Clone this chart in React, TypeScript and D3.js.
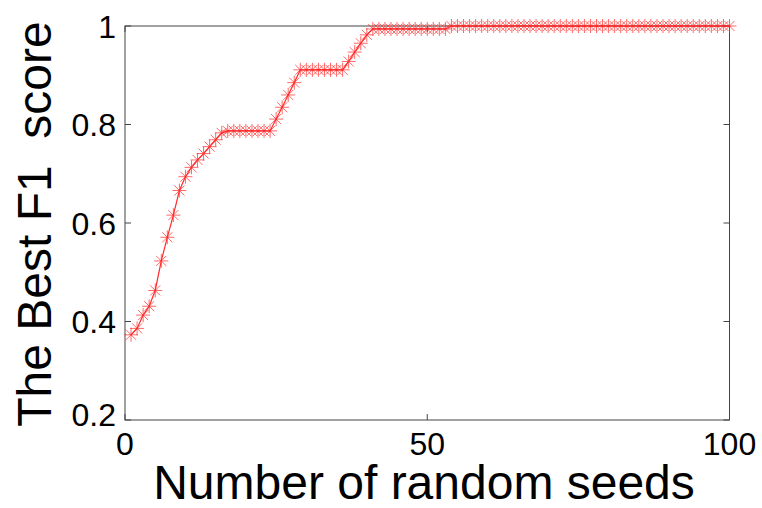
import React, { useEffect, useRef } from 'react';
import * as d3 from 'd3';

// best F1 score after n random seeds
const seeds: number[] = d3.range(1, 101);
const bestF1: number[] = [
  0.373, 0.386, 0.413, 0.431, 0.463, 0.523, 0.571, 0.616, 0.666, 0.694,
  0.713, 0.728, 0.741, 0.755, 0.769, 0.783, 0.787, 0.787, 0.787, 0.787,
  0.787, 0.787, 0.787, 0.787, 0.811, 0.835, 0.86, 0.885, 0.911, 0.911,
  0.911, 0.911, 0.911, 0.911, 0.911, 0.911, 0.928, 0.947, 0.965, 0.982,
  0.994, 0.994, 0.994, 0.994, 0.994, 0.994, 0.994, 0.994, 0.994, 0.994,
  0.994, 0.994, 0.994, 1.0, 1.0, 1.0, 1.0, 1.0, 1.0, 1.0,
  1.0, 1.0, 1.0, 1.0, 1.0, 1.0, 1.0, 1.0, 1.0, 1.0,
  1.0, 1.0, 1.0, 1.0, 1.0, 1.0, 1.0, 1.0, 1.0, 1.0,
  1.0, 1.0, 1.0, 1.0, 1.0, 1.0, 1.0, 1.0, 1.0, 1.0,
  1.0, 1.0, 1.0, 1.0, 1.0, 1.0, 1.0, 1.0, 1.0, 1.0,
];
const xTicks = [0, 50, 100];
const yTicks = [0.2, 0.4, 0.6, 0.8, 1];

const App = () => {
  const ref = useRef<SVGSVGElement>(null);

  useEffect(() => {
    if (!ref.current) return;
    const svg = d3.select(ref.current);
    svg.selectAll('*').remove();

    const left = 125, right = 729.5, top = 26, bottom = 420;
    const x = d3.scaleLinear().domain([0, 100]).range([left, right]);
    const y = d3.scaleLinear().domain([0.2, 1]).range([bottom, top]);
    const font = '"Liberation Sans", Arial, sans-serif';
    const axisColor = '#444';

    // box
    svg.append('rect')
      .attr('x', left).attr('y', top)
      .attr('width', right - left).attr('height', bottom - top)
      .attr('fill', 'none').attr('stroke', axisColor).attr('stroke-width', 1);

    // inner ticks, both sides like matlab
    const tickLen = 6;
    yTicks.forEach(t => {
      svg.append('line').attr('x1', left).attr('x2', left + tickLen)
        .attr('y1', y(t)).attr('y2', y(t)).attr('stroke', axisColor);
      svg.append('line').attr('x1', right).attr('x2', right - tickLen)
        .attr('y1', y(t)).attr('y2', y(t)).attr('stroke', axisColor);
      svg.append('text')
        .attr('x', left - 9).attr('y', Math.min(y(t), 414))
        .attr('dy', '0.36em')
        .attr('text-anchor', 'end')
        .style('font-family', font).style('font-size', '32px')
        .text(d3.format('~g')(t));
    });
    xTicks.forEach(t => {
      svg.append('line').attr('x1', x(t)).attr('x2', x(t))
        .attr('y1', bottom).attr('y2', bottom - tickLen).attr('stroke', axisColor);
      svg.append('line').attr('x1', x(t)).attr('x2', x(t))
        .attr('y1', top).attr('y2', top + tickLen).attr('stroke', axisColor);
      svg.append('text')
        .attr('x', x(t)).attr('y', 455)
        .attr('text-anchor', 'middle')
        .style('font-family', font).style('font-size', '32px')
        .text(t);
    });

    // axis titles
    svg.append('text')
      .attr('x', 424).attr('y', 499)
      .attr('text-anchor', 'middle')
      .style('font-family', font).style('font-size', '48px')
      .text('Number of random seeds');
    svg.append('text')
      .attr('transform', `translate(51,${(top + bottom) / 2 + 1}) rotate(-90)`)
      .attr('text-anchor', 'middle')
      .style('font-family', font).style('font-size', '48px')
      .style('white-space', 'pre')
      .text('The Best F1  score');

    const data = seeds.map((s, i) => ({ s, v: bestF1[i] }));
    const red = '#ff2a2a';

    svg.append('path')
      .datum(data)
      .attr('fill', 'none')
      .attr('stroke', red)
      .attr('stroke-width', 1.2)
      .attr('d', d3.line<{ s: number; v: number }>().x(d => x(d.s)).y(d => y(d.v)));

    const r = 7, rd = r * 0.72;
    const mk = svg.append('g').attr('stroke', red).attr('stroke-opacity', 0.7).attr('stroke-width', 1);
    data.forEach(d => {
      const cx = x(d.s), cy = y(d.v);
      mk.append('path').attr('d',
        `M${cx - r},${cy}H${cx + r}M${cx},${cy - r}V${cy + r}` +
        `M${cx - rd},${cy - rd}L${cx + rd},${cy + rd}M${cx - rd},${cy + rd}L${cx + rd},${cy - rd}`);
    });
  }, []);

  return (
    <svg ref={ref} width={762} height={508}
      style={{ position: 'absolute', left: 0, top: 0, background: '#fff' }} />
  );
};

export default App;
